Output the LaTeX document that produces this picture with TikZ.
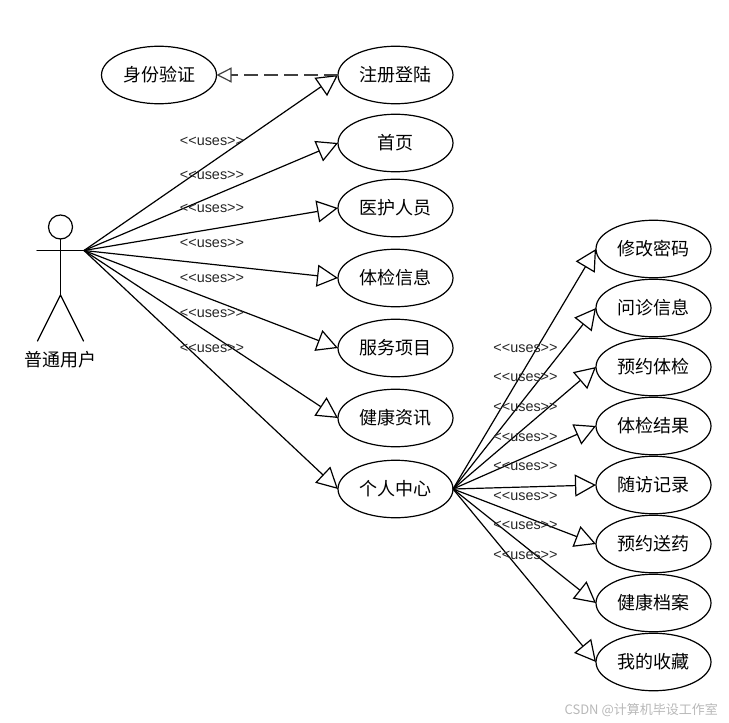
\documentclass[tikz,border=0pt]{standalone}
\usepackage{fontspec}
\setmainfont{Liberation Sans}
\newfontfamily\cjk{Noto Sans CJK SC}[Scale=1]
\usetikzlibrary{shapes.geometric,arrows.meta}
\tikzset{
  uc/.style={draw=black,ellipse,line width=1.2pt,minimum width=115pt,minimum height=57.5pt,inner sep=0pt,outer sep=0pt,font=\fontsize{18}{20}\selectfont\cjk},
  assoc/.style={draw=black,line width=1.2pt,-{Triangle[open,length=21pt,width=22pt,line width=1.2pt]}},
  incl/.style={draw=black!75,line width=1.6pt,dash pattern=on 14pt off 6pt,-{Triangle[open,length=15pt,width=15pt,line width=1.2pt]}},
  stereo/.style={inner sep=0pt,text=black!85,font=\fontsize{14.4}{15}\selectfont},
  limb/.style={draw=black,line width=1.2pt,line cap=round},
}
\begin{document}
\begin{tikzpicture}[x=1pt,y=-1pt]
\useasboundingbox (0,0) rectangle (729,723);
% actor
\node[circle,draw=black,line width=1.2pt,minimum size=24pt,inner sep=0pt,outer sep=0pt] (head) at (60.5,227) {};
\coordinate (handL) at (37,250.5);
\coordinate (handR) at (84,250.5);
\coordinate (hip) at (60.5,295);
\coordinate (footL) at (37.5,341);
\coordinate (footR) at (83.5,341);
\draw[limb] (handL) -- (handR);
\draw[limb] (head.south) -- (hip);
\draw[limb] (footL) -- (hip) -- (footR);
\node[inner sep=0pt,font=\fontsize{18}{20}\selectfont\cjk] (actorlabel) at (60.5,360) {普通用户};
% use cases
\node[uc] (auth) at (159,75) {身份验证};
\node[uc] (reg) at (395.5,75) {注册登陆};
\node[uc] (home) at (395.5,143) {首页};
\node[uc] (staff) at (395.5,208) {医护人员};
\node[uc] (exam) at (395.5,278) {体检信息};
\node[uc] (svc) at (395.5,348) {服务项目};
\node[uc] (news) at (395.5,418) {健康资讯};
\node[uc] (me) at (395.5,489) {个人中心};
\node[uc] (pwd) at (653.5,249) {修改密码};
\node[uc] (inq) at (653.5,308) {问诊信息};
\node[uc] (book) at (653.5,367) {预约体检};
\node[uc] (res) at (653.5,426) {体检结果};
\node[uc] (visit) at (653.5,485) {随访记录};
\node[uc] (drug) at (653.5,544) {预约送药};
\node[uc] (file) at (653.5,603) {健康档案};
\node[uc] (fav) at (653.5,662) {我的收藏};
% connectors
\foreach \t in {reg,home,staff,exam,svc,news,me}
  \draw[assoc] (handR) -- (\t.west);
\foreach \t in {pwd,inq,book,res,visit,drug,file,fav}
  \draw[assoc] (me.east) -- (\t.west);
\draw[incl] (reg.west) -- (auth.east);
% stereotypes
\foreach \n/\y in {a/141,b/175,c/208,d/243,e/278,f/313,g/348}
  \node[stereo] (l\n) at (212,\y) {<{}<uses>{}>};
\foreach \n/\y in {a/348,b/377,c/407,d/437,e/466,f/496,g/525,h/555}
  \node[stereo] (r\n) at (525.5,\y) {<{}<uses>{}>};
% watermark
\node[anchor=east,inner sep=0pt,text=black!28,font=\fontsize{13}{15}\selectfont\cjk] (mark) at (718,710) {CSDN @计算机毕设工作室};
\end{tikzpicture}
\end{document}
